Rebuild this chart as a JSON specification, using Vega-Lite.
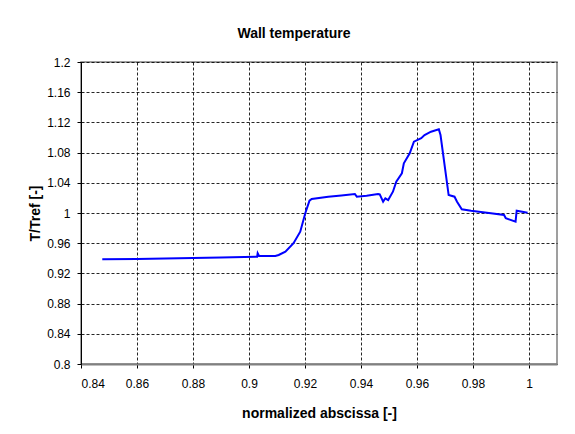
{
  "$schema": "https://vega.github.io/schema/vega-lite/v6.json",
  "autosize": {"type": "none"},
  "width": 476,
  "height": 302,
  "padding": {"left": 81, "top": 62, "right": 18, "bottom": 70},
  "background": "white",
  "title": {"text": "Wall temperature", "font": "Liberation Sans", "fontSize": 14, "fontWeight": "bold", "color": "black", "offset": 15, "dx": -25},
  "config": {
    "view": {"stroke": "#808080", "strokeWidth": 1.5},
    "axis": {"labelFont": "Liberation Sans", "labelFontSize": 12, "labelColor": "black", "titleFont": "Liberation Sans", "titleFontSize": 14, "titleFontWeight": "bold", "titleColor": "black", "gridColor": "black", "gridDash": [3, 2], "gridWidth": 1, "gridOpacity": 0.85, "tickColor": "black", "tickSize": 4}
  },
  "data": {"values": [
    {"x": 0.8476, "y": 0.9387},
    {"x": 0.8600, "y": 0.9392},
    {"x": 0.8750, "y": 0.9400},
    {"x": 0.8900, "y": 0.9410},
    {"x": 0.9029, "y": 0.9420},
    {"x": 0.9031, "y": 0.9467},
    {"x": 0.9036, "y": 0.9432},
    {"x": 0.9094, "y": 0.9430},
    {"x": 0.9106, "y": 0.9444},
    {"x": 0.9130, "y": 0.9487},
    {"x": 0.9159, "y": 0.9600},
    {"x": 0.9183, "y": 0.9752},
    {"x": 0.9201, "y": 0.9996},
    {"x": 0.9216, "y": 1.0163},
    {"x": 0.9224, "y": 1.0185},
    {"x": 0.9283, "y": 1.0216},
    {"x": 0.9330, "y": 1.0232},
    {"x": 0.9378, "y": 1.0252},
    {"x": 0.9385, "y": 1.0216},
    {"x": 0.9420, "y": 1.0230},
    {"x": 0.9461, "y": 1.0252},
    {"x": 0.9467, "y": 1.0248},
    {"x": 0.9479, "y": 1.0150},
    {"x": 0.9487, "y": 1.0195},
    {"x": 0.9497, "y": 1.0172},
    {"x": 0.9514, "y": 1.0282},
    {"x": 0.9526, "y": 1.0415},
    {"x": 0.9546, "y": 1.0526},
    {"x": 0.9553, "y": 1.0658},
    {"x": 0.9574, "y": 1.0791},
    {"x": 0.9589, "y": 1.0945},
    {"x": 0.9615, "y": 1.0990},
    {"x": 0.9627, "y": 1.1033},
    {"x": 0.9650, "y": 1.1077},
    {"x": 0.9678, "y": 1.1108},
    {"x": 0.9684, "y": 1.1033},
    {"x": 0.9713, "y": 1.0238},
    {"x": 0.9734, "y": 1.0216},
    {"x": 0.9743, "y": 1.0150},
    {"x": 0.9760, "y": 1.0049},
    {"x": 0.9793, "y": 1.0030},
    {"x": 0.9864, "y": 0.9996},
    {"x": 0.9911, "y": 0.9974},
    {"x": 0.9917, "y": 0.9930},
    {"x": 0.9952, "y": 0.9885},
    {"x": 0.9956, "y": 1.0030},
    {"x": 0.9995, "y": 1.0004}
  ]},
  "mark": {"type": "line", "color": "#0000FF", "strokeWidth": 2, "clip": true},
  "encoding": {
    "x": {"field": "x", "type": "quantitative", "scale": {"domain": [0.84, 1.01], "nice": false, "zero": false},
      "axis": {"values": [0.84, 0.86, 0.88, 0.9, 0.92, 0.94, 0.96, 0.98, 1.0], "format": "~g", "title": "normalized abscissa [-]", "domainColor": "#808080", "domainWidth": 2, "labelPadding": 10, "titleY": 49, "titleBaseline": "middle"}},
    "y": {"field": "y", "type": "quantitative", "scale": {"domain": [0.8, 1.2], "nice": false, "zero": false},
      "axis": {"values": [0.8, 0.84, 0.88, 0.92, 0.96, 1.0, 1.04, 1.08, 1.12, 1.16, 1.2], "format": "~g", "title": "T/Tref [-]", "domainColor": "black", "domainWidth": 1, "labelPadding": 7, "titleX": -46, "titleBaseline": "middle"}}
  }
}
